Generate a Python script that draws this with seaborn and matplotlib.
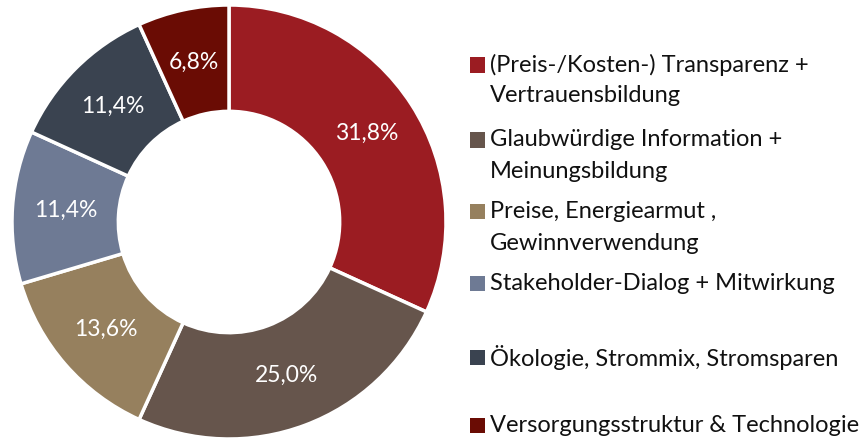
import matplotlib
matplotlib.use("Agg")
import matplotlib.pyplot as plt
from matplotlib.patches import Rectangle
import seaborn as sns

categories = [
    "(Preis-/Kosten-) Transparenz +\nVertrauensbildung",
    "Glaubwürdige Information +\nMeinungsbildung",
    "Preise, Energiearmut ,\nGewinnverwendung",
    "Stakeholder-Dialog + Mitwirkung",
    "Ökologie, Strommix, Stromsparen",
    "Versorgungsstruktur & Technologie",
]
shares = [31.8, 25.0, 13.6, 11.4, 11.4, 6.8]
colors = ["#9B1C22", "#66554C", "#96805E", "#6E7A94", "#3A4350", "#6A0C04"]

sns.set_theme(style="white")
plt.rcParams["font.family"] = ["Lato", "DejaVu Sans"]

W, H = 868, 443
fig = plt.figure(figsize=(W / 100, H / 100), dpi=100)

cx, cy, r = 229, 222, 217
ax = fig.add_axes([(cx - r) / W, (H - cy - r) / H, 2 * r / W, 2 * r / H])

wedges, _, autotexts = ax.pie(
    shares,
    colors=colors,
    startangle=90,
    counterclock=False,
    radius=1.0,
    autopct=lambda p: f"{p:.1f}".replace(".", ",") + "%",
    pctdistance=0.755,
    wedgeprops=dict(width=0.49, edgecolor="white", linewidth=2.5),
    textprops=dict(color="white", fontsize=16.5),
)
ax.set_xlim(-1, 1)
ax.set_ylim(-1, 1)
ax.set_aspect("equal")
ax.axis("off")

# Legend drawn as swatches with wrapped labels, one text line at a time
first_line_y = [65, 140, 212, 283, 357, 425]
line_step = 31
for lab, col, y in zip(categories, colors, first_line_y):
    fig.patches.append(Rectangle((470 / W, (H - y - 7.5) / H), 15 / W, 15 / H,
                                 transform=fig.transFigure, facecolor=col, edgecolor="none"))
    for i, line in enumerate(lab.split("\n")):
        fig.text(490 / W, (H - y - i * line_step) / H, line, ha="left",
                 va="center", fontsize=17, color="#111111")

fig.savefig("out.png", dpi=100, facecolor="white")
